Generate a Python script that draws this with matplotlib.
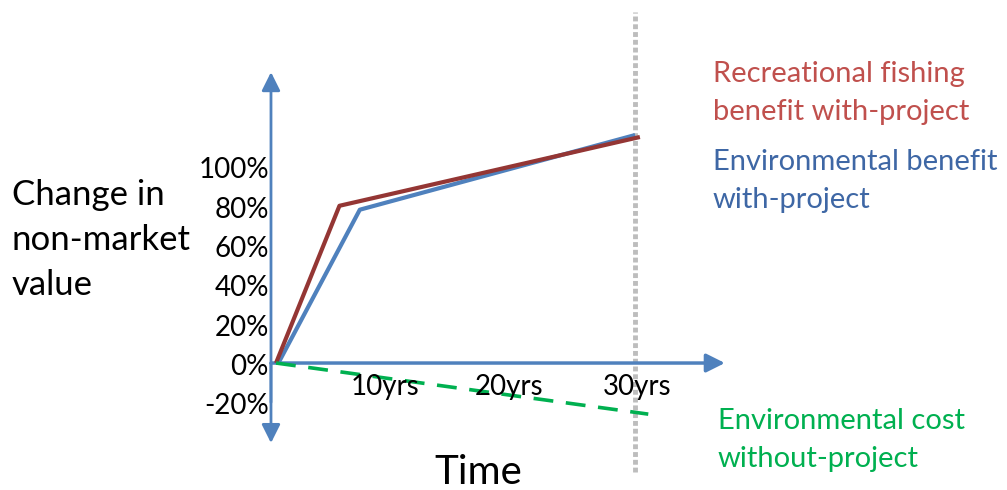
import numpy as np
import matplotlib
matplotlib.use('Agg')
import matplotlib.pyplot as plt

plt.rcParams['font.family'] = ['Lato', 'DejaVu Sans']

# data (years, % change)
anos_rec = [0, 5.3, 30.4]
val_rec = [0, 80, 115]
anos_env = [0.2, 7.0, 30.0]
val_env = [0, 78, 116]
anos_custo = [0, 31.1]
val_custo = [0, -26]
ticks_y = [100, 80, 60, 40, 20, 0, -20]
ticks_x = [9.1, 19.5, 30.2]
rotulos_x = ['10yrs', '20yrs', '30yrs']

fig = plt.figure(figsize=(10.07, 4.90), dpi=100)
ax = fig.add_axes([0, 0, 1, 1])
ax.set_xlim(-23.06, 61.07)
ax.set_ylim(-64.6, 184.7)
ax.axis('off')

azul_eixo = '#4F81BD'
# vertical axis (double arrow)
ax.annotate('', xy=(-0.42, 148), xytext=(-0.42, -20),
            arrowprops=dict(arrowstyle='-|>', color=azul_eixo, lw=2, mutation_scale=28, shrinkA=0, shrinkB=0))
ax.annotate('', xy=(-0.42, -40.7), xytext=(-0.42, 0),
            arrowprops=dict(arrowstyle='-|>', color=azul_eixo, lw=2, mutation_scale=28, shrinkA=0, shrinkB=0))
# horizontal axis
ax.annotate('', xy=(37.5, 0), xytext=(-0.42, 0),
            arrowprops=dict(arrowstyle='-|>', color=azul_eixo, lw=2.5, mutation_scale=28, shrinkA=0, shrinkB=0))

# dotted gray line at 30yrs
ax.plot([30, 30], [-55.5, 178.6], color='#BDBDBD', lw=3.5, dashes=(1, 0.6), zorder=1)

ax.plot(anos_env, val_env, color='#4F81BD', lw=3, zorder=3, solid_capstyle='butt')
ax.plot(anos_rec, val_rec, color='#943634', lw=3, zorder=3, solid_capstyle='butt')
ax.plot(anos_custo, val_custo, color='#00B050', lw=2.6, dashes=(5.5, 3.5), zorder=3)

for v in ticks_y:
    ax.text(-0.6, v - 2, f'{v}%', ha='right', va='center', fontsize=20, color='black')
for x, r in zip(ticks_x, rotulos_x):
    ax.text(x, -12, r, ha='center', va='center', fontsize=20, color='black')

fig.text(12 / 1007, 1 - 240 / 490, 'Change in\nnon-market\nvalue', ha='left', va='center',
         fontsize=25, linespacing=1.5)
fig.text(478 / 1007, 1 - 472 / 490, 'Time', ha='center', va='center', fontsize=29)

fig.text(713 / 1007, 1 - 93 / 490, 'Recreational fishing\nbenefit with-project', ha='left', va='center',
         fontsize=21, color='#C0504D', linespacing=1.55)
fig.text(713 / 1007, 1 - 181 / 490, 'Environmental benefit\nwith-project', ha='left', va='center',
         fontsize=21, color='#3E67A5', linespacing=1.55)
fig.text(718 / 1007, 1 - 440 / 490, 'Environmental cost\nwithout-project', ha='left', va='center',
         fontsize=21, color='#00B050', linespacing=1.55)

fig.savefig('out.png', dpi=100)
